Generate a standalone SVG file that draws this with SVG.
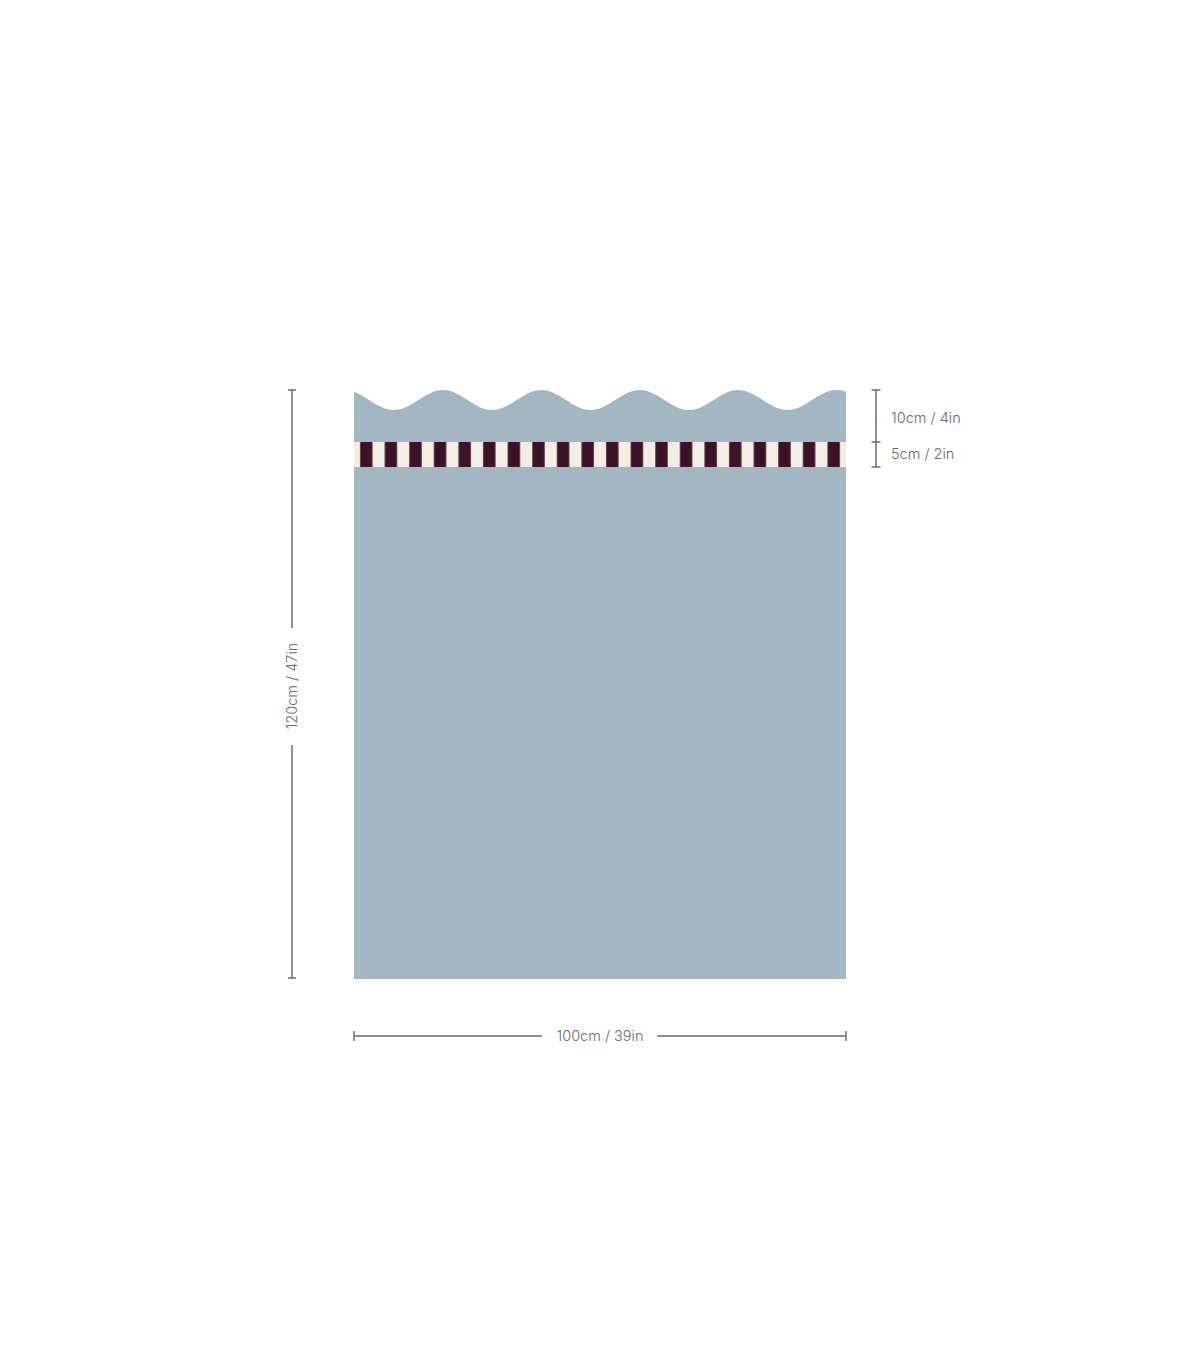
<svg xmlns="http://www.w3.org/2000/svg" width="1200" height="1372" viewBox="0 0 1200 1372">
  <style>
    .dim { stroke: #6e6e6e; stroke-width: 1.5; fill: none; }
    .lbl { font-family: Inter, "Liberation Sans", sans-serif; font-size: 14.5px; font-weight: 300; fill: #6a6a6a; }
  </style>
  <defs>
    <clipPath id="panelClip">
      <rect x="354" y="385" width="492" height="594"/>
    </clipPath>
    <pattern id="stripes" patternUnits="userSpaceOnUse" x="354" y="442" width="24.6" height="25">
      <rect x="0" y="0" width="24.6" height="25" fill="#F1EEE3"/>
      <rect x="6.15" y="0" width="12.3" height="25" fill="#3E1226"/>
    </pattern>
  </defs>
  <rect width="1200" height="1372" fill="#ffffff"/>
  <g id="panel" clip-path="url(#panelClip)">
    <path fill="#A2B7C2" d="M344.6,390 C362.5,390 375.9,410 393.8,410 S425.1,390 443,390 S474.3,410 492.2,410 S523.5,390 541.4,390 S572.7,410 590.6,410 S621.9,390 639.8,390 S671.1,410 689,410 S720.3,390 738.2,390 S769.5,410 787.4,410 S818.7,390 836.6,390 S867.9,410 885.8,410 L885.8,979 L344.6,979 Z"/>
    <rect id="stripe-band" x="354" y="442" width="492" height="25" fill="url(#stripes)"/>
  </g>
  <g id="dimensions">
    <g id="dim-height">
      <path class="dim" d="M292,390 V628 M292,745 V978 M288,390 H296 M288,978 H296"/>
      <text class="lbl" text-anchor="middle" transform="translate(297,686) rotate(-90)">120cm / 47in</text>
    </g>
    <g id="dim-top">
      <path class="dim" d="M876,390 V467 M871.5,390 H880.5 M871.5,442 H880.5 M871.5,467 H880.5"/>
      <text class="lbl" x="891" y="423">10cm / 4in</text>
      <text class="lbl" x="891" y="459">5cm / 2in</text>
    </g>
    <g id="dim-width">
      <path class="dim" d="M354,1036 H542 M657,1036 H846 M354,1031 V1041 M846,1031 V1041"/>
      <text class="lbl" x="600" y="1041" text-anchor="middle">100cm / 39in</text>
    </g>
  </g>
</svg>
